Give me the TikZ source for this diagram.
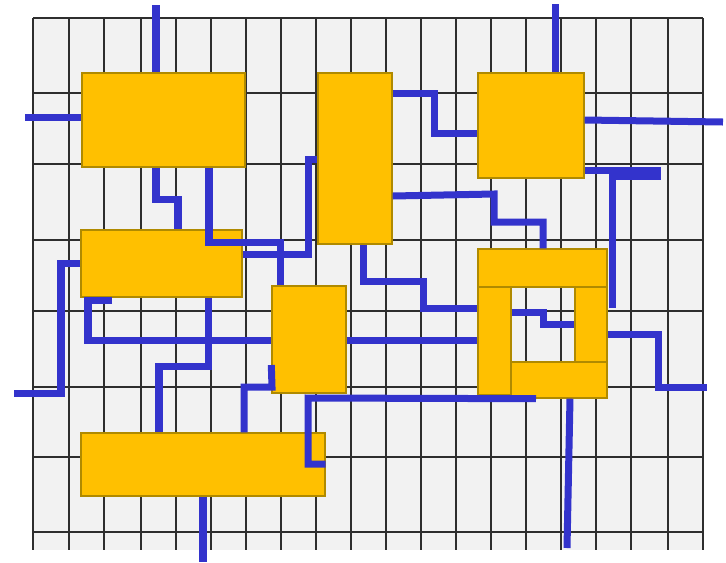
\documentclass[tikz,border=0pt]{standalone}
\usepackage{tikz}
\usetikzlibrary{fit}
\definecolor{WireBlue}{HTML}{3333CC}
\definecolor{BlockGold}{HTML}{FFC000}
\definecolor{BlockEdge}{HTML}{B08A00}
\definecolor{GridFill}{HTML}{F2F2F2}
\definecolor{GridLine}{HTML}{2E2E2E}

\begin{document}
\begin{tikzpicture}[x=0.025cm,y=-0.025cm,
    block/.style={draw=BlockEdge,fill=BlockGold,line width=0.035cm,inner sep=0pt},
    wire/.style={draw=WireBlue,line width=0.175cm}]
    \useasboundingbox (0,0) rectangle (726,562);
    % grid
    \fill[GridFill] (33,18) rectangle (703,550);
    \foreach \gx in {33,69,104,141,176,211,246,281,316,351,386,421,456,491,526,561,596,631,668,703}
      \draw[GridLine,line width=0.05cm] (\gx,18)--(\gx,550);
    \foreach \gy in {18,93,164,240,311,387,457,532}
      \draw[GridLine,line width=0.05cm] (33,\gy)--(703,\gy);
    % blocks
    \node[block,fit={(82,73) (245,167)}] (b1) {};
    \node[block,fit={(81,230) (242,297)}] (b2) {};
    \node[block,fit={(318,73) (392,244)}] (b3) {};
    \node[block,fit={(478,73) (584,178)}] (b4) {};
    \node[block,fit={(272,286) (346,393)}] (b5) {};
    \node[block,fit={(81,433) (325,496)}] (b6) {};
    \node[block,fit={(478,249) (607,287)}] (cTop) {};
    \node[block,fit={(478,287) (511,395)}] (cLeft) {};
    \node[block,fit={(575,287) (607,362)}] (cRight) {};
    \node[block,fit={(511,362) (607,398)}] (cBot) {};
    % free ends
    \coordinate (topA) at (156,5);
    \coordinate (topB) at (555,4);
    \coordinate (leftA) at (25,117);
    \coordinate (leftB) at (14,393);
    \coordinate (rightA) at (723,122);
    \coordinate (rightB) at (707,387);
    \coordinate (botA) at (567,548);
    \coordinate (botB) at (203,562);
    \coordinate (stubA) at (112,300);
    \coordinate (stubB) at (612,308);
    % wires
    \draw[wire] (topA) -- (topA |- b1.north);
    \draw[wire] (leftA) -- (leftA -| b1.west);
    \draw[wire] (b1.south -| 156,0) -- (156,199) -- (178,199) -- (178,0 |- b2.north);
    \draw[wire] (b1.south -| 209,0) -- (209,242) -- (280,242) -- (280,0 |- b5.north);
    \draw[wire] (b2.east |- 0,254) -- (308,254) -- (308,159) -- (b3.west |- 0,159);
    \draw[wire] (b3.east |- 0,93) -- (434,93) -- (434,133) -- (b4.west |- 0,133);
    \draw[wire] (topB) -- (topB |- b4.north);
    \draw[wire] (b4.east |- 0,120) -- (rightA);
    \draw[wire] (b4.east |- 0,170) -- (661,170);
    \draw[wire] (stubB) -- (612,176) -- (661,176);
    \draw[wire] (b3.east |- 0,196) -- (494,194) -- (494,222) -- (543,222) -- (543,0 |- cTop.north);
    \draw[wire] (b3.south -| 363,0) -- (363,281) -- (423,281) -- (423,308) -- (cLeft.west |- 0,308);
    \draw[wire] (cLeft.east |- 0,312) -- (543,312) -- (543,324) -- (cRight.west |- 0,324);
    \draw[wire] (b5.east |- 0,340) -- (cLeft.west |- 0,340);
    \draw[wire] (cRight.east |- 0,334) -- (658,334) -- (658,387) -- (rightB);
    \draw[wire] (cBot.south -| 570,0) -- (botA);
    \draw[wire] (cBot.south -| 536,0) -- (308,398) -- (308,464) -- (b6.east |- 0,464);
    \draw[wire] (b2.west |- 0,263) -- (61,263) -- (61,393) -- (leftB);
    \draw[wire] (stubA) -- (88,300) -- (88,340) -- (b5.west |- 0,340);
    \draw[wire] (b2.south -| 208,0) -- (208,366) -- (159,366) -- (159,0 |- b6.north);
    \draw[wire] (b5.west |- 0,365) -- (272,387) -- (244,387) -- (244,0 |- b6.north);
    \draw[wire] (b6.south -| 203,0) -- (botB);
\end{tikzpicture}
\end{document}
